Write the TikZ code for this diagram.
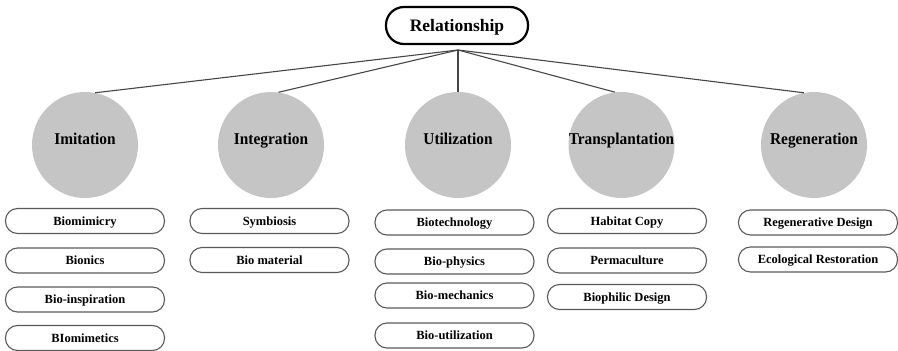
\documentclass[tikz,border=0pt]{standalone}
\usepackage{fontspec}
\setmainfont{Liberation Serif}
\definecolor{circfill}{RGB}{197,197,197}
\definecolor{pillline}{RGB}{90,90,90}
\definecolor{conn}{RGB}{70,70,70}
\newcommand{\cattext}[1]{\scalebox{0.93}[1]{#1}}
\tikzset{
  rootbox/.style={draw=black, line width=2.2pt, rounded corners=18pt, minimum width=142pt, minimum height=37pt, inner sep=0pt, text height=13pt, text depth=2pt, font=\fontsize{17.5}{20}\selectfont\bfseries},
  cat/.style={circle, fill=circfill, minimum size=106pt, inner sep=0pt},
  catlabel/.style={inner sep=0pt, text height=8pt, text depth=10pt, font=\fontsize{16.5}{19}\selectfont\bfseries},
  pill/.style={draw=pillline, line width=1.1pt, rounded corners=12pt, minimum width=159pt, minimum height=25pt, inner sep=0pt, text height=10pt, text depth=2pt, font=\fontsize{12.5}{15}\selectfont\bfseries},
  link/.style={draw=conn, line width=1.1pt}
}
\begin{document}
\begin{tikzpicture}[x=1pt, y=-1pt]
\useasboundingbox (0,0) rectangle (898,351);
\node[rootbox] (root) at (457,25.5) {Relationship};
\coordinate (hub) at (458,50);
\node[cat, label={[catlabel]center:\cattext{Imitation}}] (imit) at (85,145) {};
\node[cat, label={[catlabel]center:\cattext{Integration}}] (integ) at (271,145) {};
\node[cat, label={[catlabel]center:\cattext{Utilization}}] (util) at (458,145) {};
\node[cat, label={[catlabel]center:\cattext{Transplantation}}] (trans) at (621.5,145) {};
\node[cat, label={[catlabel]center:\cattext{Regeneration}}] (regen) at (814,145) {};
\draw[link] (hub) -- (imit.79);
\draw[link] (hub) -- (integ.82);
\draw[link] (hub) -- (util.90);
\draw[link] (hub) -- (trans.97);
\draw[link] (hub) -- (regen.101);
% Imitation column
\node[pill] (p11) at (85,221) {Biomimicry};
\node[pill] (p12) at (85,260.5) {Bionics};
\node[pill] (p13) at (85,299.5) {Bio-inspiration};
\node[pill] (p14) at (85,338) {BIomimetics};
% Integration column
\node[pill] (p21) at (269.5,221) {Symbiosis};
\node[pill] (p22) at (269.5,260) {Bio material};
% Utilization column
\node[pill] (p31) at (454.5,222.5) {Biotechnology};
\node[pill] (p32) at (454.5,261.5) {Bio-physics};
\node[pill] (p33) at (454.5,295.5) {Bio-mechanics};
\node[pill] (p34) at (454.5,335.5) {Bio-utilization};
% Transplantation column
\node[pill] (p41) at (627,221) {Habitat Copy};
\node[pill] (p42) at (627,260.5) {Permaculture};
\node[pill] (p43) at (627,297) {Biophilic Design};
% Regeneration column
\node[pill] (p51) at (818,222.5) {Regenerative Design};
\node[pill] (p52) at (818,259.5) {Ecological Restoration};
\end{tikzpicture}
\end{document}
